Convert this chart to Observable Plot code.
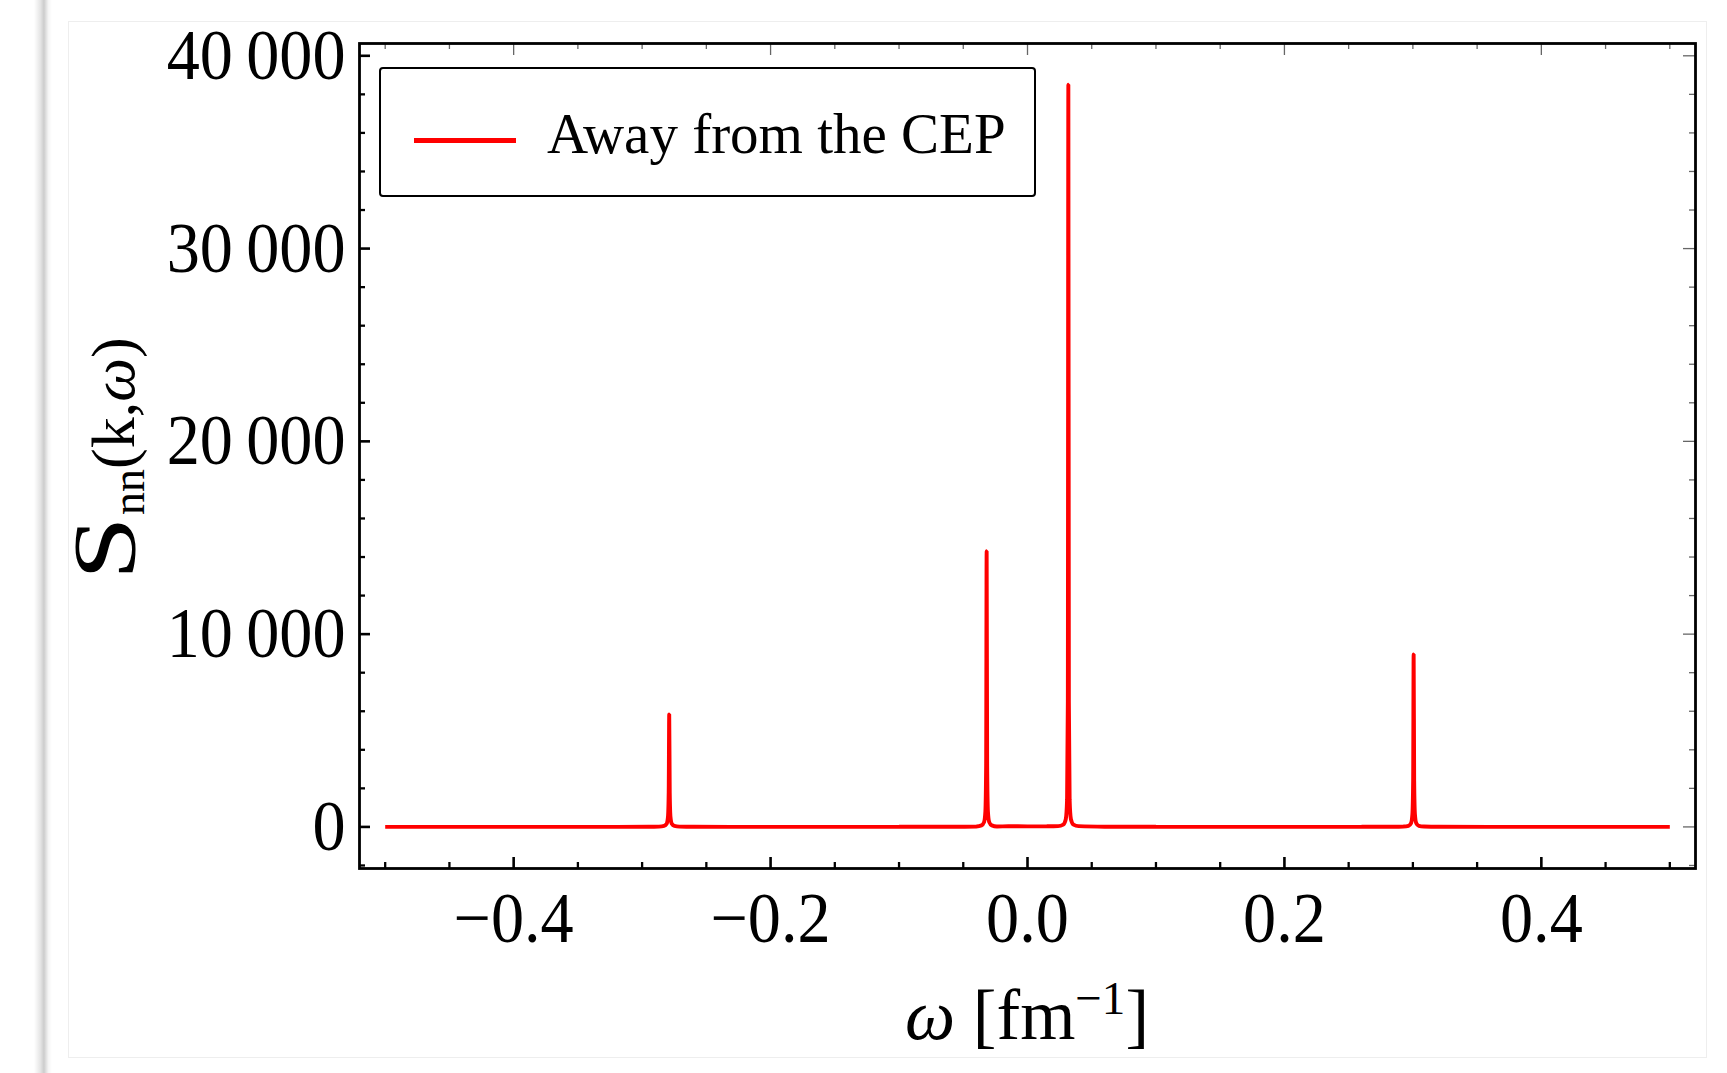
<!DOCTYPE html>
<html>
<head>
<meta charset="utf-8">
<script src="https://cdn.jsdelivr.net/npm/d3@7"></script>
<script src="https://cdn.jsdelivr.net/npm/@observablehq/plot@0.6"></script>
<style>
  html, body { margin: 0; padding: 0; background: #fff; }
  #wrap { position: relative; width: 1727px; height: 1073px; overflow: hidden;
          font-family: "Liberation Serif", "Times New Roman", serif; }
  #shadow { position: absolute; left: 34px; top: 0; width: 18px; height: 1073px;
            background: linear-gradient(to right, rgba(0,0,0,0) 0%, rgba(0,0,0,0.10) 35%, rgba(0,0,0,0.20) 55%, rgba(0,0,0,0.04) 80%, rgba(0,0,0,0) 100%); }
  #panel { position: absolute; left: 68px; top: 21px; width: 1639px; height: 1037px;
           border: 1.5px solid #eeeeee; box-sizing: border-box; }
  #chart { position: absolute; left: 0; top: 0; }
  #legend { position: absolute; left: 379px; top: 67px; width: 657px; height: 130px;
            border: 2.4px solid #000; border-radius: 4px; background: #fff; box-sizing: border-box; }
  #legend .swatch { position: absolute; left: 33px; top: 69px; width: 102px; height: 5px; background: #ff0000; }
  #legend .lbl { position: absolute; left: 166px; top: 25px; font-size: 57px; line-height: 80px; color: #000; white-space: nowrap; }
</style>
</head>
<body>
<div id="wrap">
  <div id="shadow"></div>
  <div id="panel"></div>
  <div id="chart"></div>
  <div id="legend"><div class="swatch"></div><div class="lbl">Away from the CEP</div></div>
</div>
<script>
// ---- data ----
const omega = [
  -0.5, -0.4, -0.32, -0.295,
  -0.2869, -0.2829, -0.2809, -0.2799, -0.2793, -0.2789, -0.2785, -0.2779, -0.2769, -0.2749, -0.2709,
  -0.26, -0.2, -0.1, -0.06,
  -0.0398, -0.0358, -0.0338, -0.0328, -0.0322, -0.0318, -0.0314, -0.0308, -0.0298, -0.0278, -0.0238,
  -0.015, 0, 0.015,
  0.0238, 0.0278, 0.0298, 0.0308, 0.0314, 0.0318, 0.0322, 0.0328, 0.0338, 0.0358, 0.0398,
  0.06, 0.1, 0.2, 0.26, 0.285,
  0.2926, 0.2966, 0.2986, 0.2996, 0.3002, 0.3006, 0.3010, 0.3016, 0.3026, 0.3046, 0.3086,
  0.32, 0.4, 0.5
];
const snn = [
  0, 0, 2, 5,
  15, 50, 160, 500, 1800, 5840, 1800, 500, 160, 50, 15,
  6, 3, 5, 10,
  25, 80, 250, 800, 3200, 14300, 3200, 800, 250, 80, 25,
  35, 30, 35,
  40, 120, 400, 1400, 6500, 38500, 6500, 1400, 400, 120, 40,
  12, 5, 3, 6, 10,
  20, 60, 200, 650, 2400, 8950, 2400, 650, 200, 60, 20,
  6, 2, 0
];
const xMajor = [-0.4, -0.2, 0, 0.2, 0.4];
const xMinor = [-0.5, -0.45, -0.35, -0.3, -0.25, -0.15, -0.1, -0.05, 0.05, 0.1, 0.15, 0.25, 0.3, 0.35, 0.45, 0.5];
const yMajor = [0, 10000, 20000, 30000, 40000];
const yMinor = [-2000, 2000, 4000, 6000, 8000, 12000, 14000, 16000, 18000, 22000, 24000, 26000, 28000, 32000, 34000, 36000, 38000];
const seriesName = "Away from the CEP";

// ---- layout ----
const W = 1727, H = 1073;
const mL = 359, mR = 32, mT = 43, mB = 205;
const PW = W - mL - mR, PH = H - mT - mB;
const FONT = "Liberation Serif, Times New Roman, serif";

const rows = omega.map((w, i) => ({w, s: snn[i]}));
const fmtY = d => d3.format(",")(d).replace(/,/g, "\u2009");
const fmtX = d => (d < 0 ? "\u2212" : "") + Math.abs(d).toFixed(1);

const chart = Plot.plot({
  width: W, height: H,
  marginLeft: mL, marginRight: mR, marginTop: mT, marginBottom: mB,
  x: {domain: [-0.52, 0.52]},
  y: {domain: [-2157, 40638]},
  style: {background: "transparent", fontFamily: FONT, fontSize: "72px", color: "#000", overflow: "visible"},
  marks: [
    Plot.line(rows, {x: "w", y: "s", stroke: "#ff0000", strokeWidth: 3.9, curve: "monotone-x",
                     strokeLinejoin: "bevel", strokeLinecap: "butt"}),
    // bottom / left ticks (inward, thick)
    Plot.tickX(xMajor, {x: d => d, insetTop: PH - 11, stroke: "#000", strokeWidth: 2.6}),
    Plot.tickX(xMinor, {x: d => d, insetTop: PH - 6, stroke: "#000", strokeWidth: 2.3}),
    Plot.tickY(yMajor, {y: d => d, insetRight: PW - 11, stroke: "#000", strokeWidth: 2.6}),
    Plot.tickY(yMinor, {y: d => d, insetRight: PW - 6, stroke: "#000", strokeWidth: 2.3}),
    // top / right ticks (inward, thin)
    Plot.tickX(xMajor, {x: d => d, insetBottom: PH - 12, stroke: "#666", strokeWidth: 1.3}),
    Plot.tickX(xMinor, {x: d => d, insetBottom: PH - 6, stroke: "#666", strokeWidth: 1.3}),
    Plot.tickY(yMajor, {y: d => d, insetLeft: PW - 12, stroke: "#666", strokeWidth: 1.3}),
    Plot.tickY(yMinor, {y: d => d, insetLeft: PW - 6, stroke: "#666", strokeWidth: 1.3}),
    Plot.axisX(xMajor, {tickSize: 0, tickPadding: 22, tickFormat: fmtX, label: null, fontSize: 72}),
    Plot.axisY(yMajor, {tickSize: 0, tickPadding: 14, tickFormat: fmtY, label: null, fontSize: 72}),
    Plot.frame({stroke: "#000", strokeWidth: 2.8})
  ]
});
document.getElementById("chart").appendChild(chart);

const svg = d3.select(chart);
// narrow the tick-label glyphs slightly (Mathematica's Times is taller/narrower)
svg.selectAll('g[aria-label="y-axis tick label"] text, g[aria-label="x-axis tick label"] text')
  .each(function () {
    const t = this.getAttribute("transform") || "";
    this.setAttribute("transform", t + " scale(0.92,1)");
  });

// ---- axis titles with italic omega, sub- and superscripts ----
const xt = svg.append("text")
  .attr("x", mL + PW / 2).attr("y", 1039)
  .attr("text-anchor", "middle").attr("font-size", 71).attr("fill", "#000")
  .style("font-family", FONT);
xt.append("tspan").attr("font-style", "italic").text("\u03C9");
xt.append("tspan").text(" [fm");
xt.append("tspan").attr("font-size", 47).attr("dy", -25).text("\u22121");
xt.append("tspan").attr("dy", 25).text("]");

const yg = svg.append("g")
  .attr("transform", `translate(134,457) rotate(-90)`)
  .attr("text-anchor", "start")
  .style("font-family", FONT).attr("fill", "#000");
yg.append("text")
  .attr("text-anchor", "start")
  .attr("transform", "translate(-123,0) scale(1.3,1)")
  .attr("font-size", 88).text("S");
const yt = yg.append("text").attr("text-anchor", "start").attr("x", -58).attr("font-size", 62);
yt.append("tspan").attr("font-size", 46).attr("dy", 10).text("nn");
yt.append("tspan").attr("dy", -10).text("(k,");
yt.append("tspan").attr("font-style", "italic").text("\u03C9");
yt.append("tspan").text(")");

document.querySelector("#legend .lbl").textContent = seriesName;
</script>
</body>
</html>
